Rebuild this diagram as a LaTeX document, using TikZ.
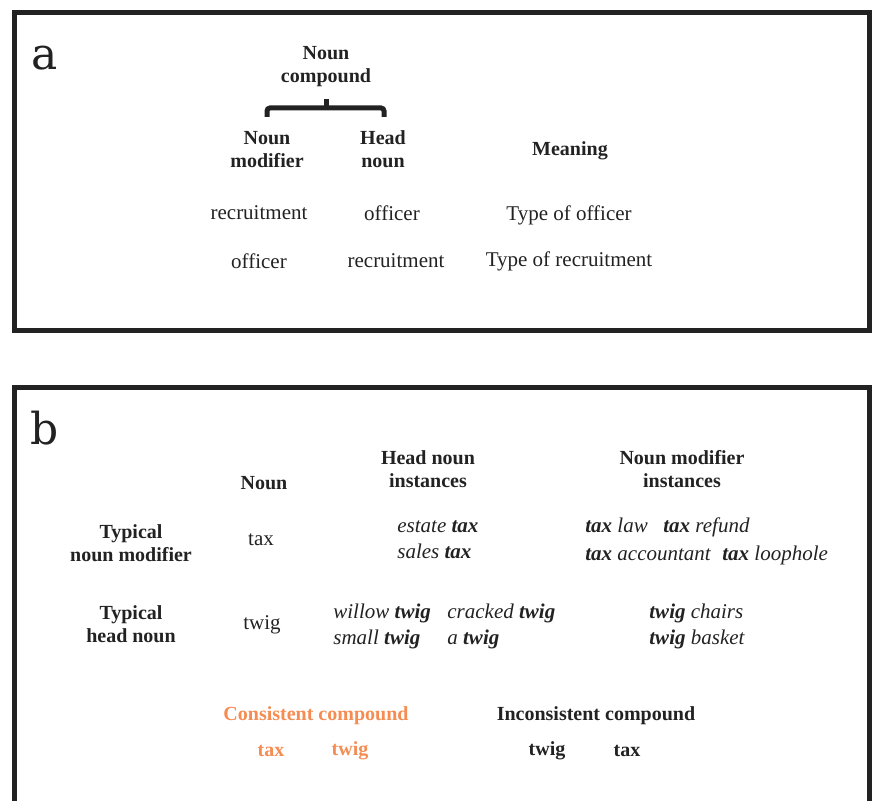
\documentclass[tikz,border=0pt]{standalone}
\usepackage{fontspec}
\setmainfont{Liberation Serif}
\newfontfamily\labfont{DejaVu Serif}
\definecolor{ink}{HTML}{222222}
\definecolor{orng}{RGB}{245,140,82}
\begin{document}
\begin{tikzpicture}[x=0.5pt, y=-0.5pt,
  hd/.style={font=\fontsize{10}{11.5}\selectfont\bfseries, text=ink, align=center, inner sep=0pt},
  tx/.style={font=\fontsize{10.5}{12}\selectfont, text=ink, inner sep=0pt},
  inst/.style={font=\fontsize{10.5}{12}\selectfont\itshape, text=ink, inner sep=0pt, anchor=base west},
  lab/.style={font=\labfont\fontsize{22}{22}\selectfont, text=ink, inner sep=0pt},
  frame/.style={draw=ink, line width=2.5pt},
  bracket/.style={draw=ink, line width=2.5pt, rounded corners=1.5pt}]
\useasboundingbox (0,0) rectangle (872,801);
\clip (0,0) rectangle (872,801);
% frames
\draw[frame] (14.5,12.5) rectangle (869.5,330.5);
\draw[frame] (14.5,387.5) rectangle (869.5,830);
% panel a
\node[lab] (la) at (45,58) {a};
\node[hd] (nc) at (326,66.5) {Noun\\compound};
\node[hd] (nm) at (267,150) {Noun\\modifier};
\node[hd] (hn) at (383,149.5) {Head\\noun};
\node[hd] (mean) at (570,151) {Meaning};
\coordinate (bl) at (267,117);
\coordinate (br) at (384,117);
\coordinate (bt) at (326,99);
\draw[bracket] (bl) -- (bl |- 0,108) -- (br |- 0,108) -- (br);
\draw[draw=ink, line width=2.5pt] (bt) -- (bt |- 0,109);
\node[tx] (r1a) at (259,213) {recruitment};
\node[tx] (r1b) at (392,213) {officer};
\node[tx] (r1c) at (569,215) {Type of officer};
\node[tx] (r2a) at (259,261) {officer};
\node[tx] (r2b) at (396,261) {recruitment};
\node[tx] (r2c) at (569,261) {Type of recruitment};
% panel b
\node[lab] (lb) at (44.5,428) {b};
\node[hd] (noun) at (264,483) {Noun};
\node[hd] (hni) at (428,469.5) {Head noun\\instances};
\node[hd] (nmi) at (682,469.5) {Noun modifier\\instances};
\node[hd] (tnm) at (131,543) {Typical\\noun modifier};
\node[hd] (thn) at (131,624) {Typical\\head noun};
\node[tx] (ntax) at (261,540) {tax};
\node[tx] (ntwig) at (262,625) {twig};
\node[inst] (i1) at (397,532) {estate {\bfseries tax}};
\node[inst] (i2) at (397,559) {sales {\bfseries tax}};
\node[inst] (i3) at (585,532) {{\bfseries tax} law};
\node[inst] (i4) at (663,532) {{\bfseries tax} refund};
\node[inst] (i5) at (585,560) {{\bfseries tax} accountant};
\node[inst] (i6) at (722,560) {{\bfseries tax} loophole};
\node[inst] (i7) at (333,618) {willow {\bfseries twig}};
\node[inst] (i8) at (447,618) {cracked {\bfseries twig}};
\node[inst] (i9) at (333,644) {small {\bfseries twig}};
\node[inst] (i10) at (447,644) {a {\bfseries twig}};
\node[inst] (i11) at (649,618) {{\bfseries twig} chairs};
\node[inst] (i12) at (649,644) {{\bfseries twig} basket};
\node[hd, text=orng] (cc) at (316,716) {Consistent compound};
\node[hd, text=orng] (cc1) at (271,751) {tax};
\node[hd, text=orng] (cc2) at (350,751) {twig};
\node[hd] (ic) at (596,716) {Inconsistent compound};
\node[hd] (ic1) at (547,751) {twig};
\node[hd] (ic2) at (627,751) {tax};
\end{tikzpicture}
\end{document}
